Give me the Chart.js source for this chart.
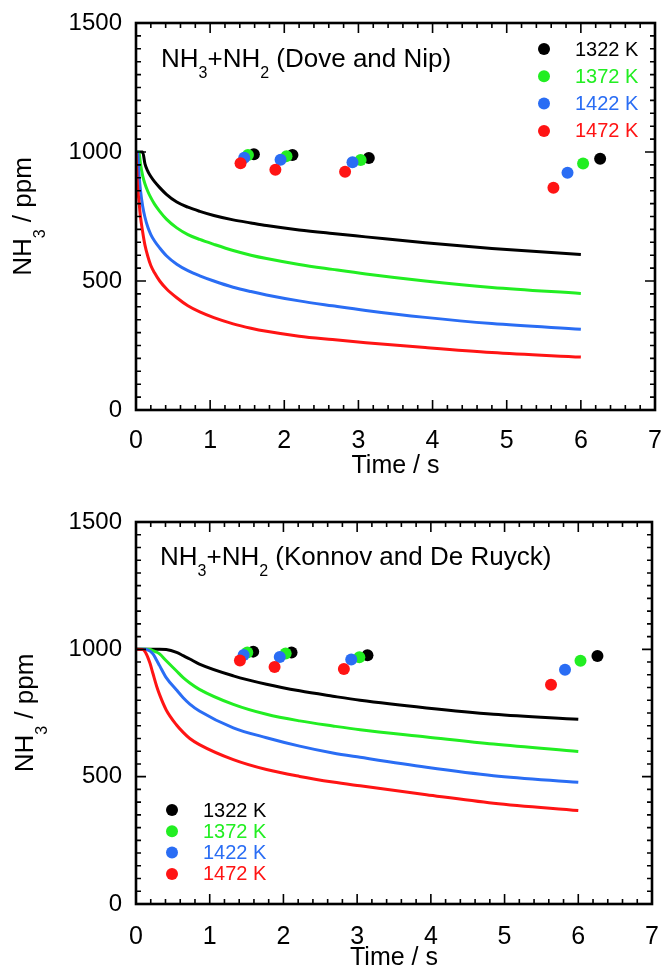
<!DOCTYPE html>
<html lang="en">
<head>
<meta charset="UTF-8">
<title>NH3 consumption - NH3+NH2 models</title>
<script src="https://cdn.jsdelivr.net/npm/chart.js"></script>
<style>
  html, body { margin: 0; padding: 0; background: #fff; }
  .panel { position: relative; width: 667px; height: 483px; }
</style>
</head>
<body>
<div class="panel"><canvas id="dove"></canvas></div>
<div class="panel"><canvas id="konnov"></canvas></div>
<script>
// ---- data ----
const temps = ['1322 K', '1372 K', '1422 K', '1472 K'];
const colors = ['#000000', '#22ee22', '#2a6df4', '#ff1414'];

const xTicks = [0, 1, 2, 3, 4, 5, 6, 7];
const yTicks = [0, 500, 1000, 1500];

// measured NH3 (same points in both panels)
const exp1322T = [1.59, 2.11, 3.14, 6.26];
const exp1322 = [991, 988, 977, 974];
const exp1372T = [1.51, 2.03, 3.03, 6.03];
const exp1372 = [988, 984, 969, 955];
const exp1422T = [1.46, 1.95, 2.92, 5.82];
const exp1422 = [978, 970, 960, 920];
const exp1472T = [1.41, 1.88, 2.82, 5.63];
const exp1472 = [956, 931, 923, 861];

// model: Dove and Nip
const doveTime = [0, 0.02, 0.04, 0.06, 0.09, 0.12, 0.16, 0.2, 0.25, 0.32, 0.41, 0.55, 0.7, 0.86, 1.05, 1.31, 1.55, 1.76, 2.2, 2.65, 3.1, 3.9, 4.8, 6.0];
const dove1322 = [1000, 1000, 1000, 1000, 1000, 955, 925, 905, 885, 862, 836, 806, 786, 770, 754, 737, 725, 715, 698, 684, 671, 648, 626, 603];
const dove1372 = [1000, 1000, 1000, 955, 908, 877, 847, 823, 798, 770, 740, 706, 680, 661, 642, 618, 600, 587, 564, 545, 527, 500, 475, 452];
const dove1422 = [1000, 1000, 915, 852, 790, 748, 708, 680, 655, 628, 598, 565, 540, 520, 500, 476, 459, 446, 423, 404, 386, 359, 335, 313];
const dove1472 = [1000, 870, 810, 750, 690, 640, 595, 560, 532, 500, 470, 435, 404, 380, 358, 334, 317, 305, 286, 273, 261, 242, 223, 205];

// model: Konnov and De Ruyck
const konTime = [0, 0.09, 0.14, 0.19, 0.23, 0.28, 0.32, 0.41, 0.55, 0.64, 0.73, 0.86, 1.32, 1.77, 2.22, 2.67, 3.04, 3.94, 4.85, 6.0];
const kon1322 = [1000, 1000, 1000, 1000, 1000, 1000, 1000, 999, 988, 975, 962, 942, 896, 863, 837, 816, 800, 770, 745, 725];
const kon1372 = [1000, 1000, 1000, 999, 995, 989, 982, 955, 915, 889, 868, 843, 784, 745, 719, 699, 684, 656, 628, 599];
const kon1422 = [1000, 1000, 999, 993, 982, 957, 936, 889, 840, 810, 785, 758, 692, 653, 620, 593, 576, 537, 504, 478];
const kon1472 = [1000, 999, 982, 945, 905, 855, 822, 762, 703, 674, 650, 626, 567, 528, 501, 479, 464, 429, 396, 367];

const FONT = '"Liberation Sans", Arial, sans-serif';
Chart.defaults.font.family = FONT;
Chart.defaults.color = '#000';

// draw runs of text, some as subscripts
function drawRuns(ctx, runs, x, y, size, drop) {
  let cx = x;
  runs.forEach(([txt, sub]) => {
    const s = sub ? Math.round(size * 0.62) : size;
    ctx.font = s + 'px ' + FONT;
    ctx.fillText(txt, cx, sub ? y + drop : y);
    cx += ctx.measureText(txt).width;
  });
  return cx - x;
}

function runsWidth(ctx, runs, size) {
  let w = 0;
  runs.forEach(([txt, sub]) => {
    ctx.font = (sub ? Math.round(size * 0.62) : size) + 'px ' + FONT;
    w += ctx.measureText(txt).width;
  });
  return w;
}

// frame, inward ticks, in-plot title, y title and legend
const decor = {
  id: 'decor',
  afterDraw(chart, args, o) {
    const { ctx, chartArea: a, scales: { x, y } } = chart;
    ctx.save();
    ctx.strokeStyle = '#000';
    ctx.lineWidth = 1.6;
    ctx.beginPath();
    for (let i = 0; i <= 35; i++) {
      const px = x.getPixelForValue(i * 0.2);
      const L = i % 5 === 0 ? 10 : 5;
      ctx.moveTo(px, a.bottom); ctx.lineTo(px, a.bottom - L);
      ctx.moveTo(px, a.top); ctx.lineTo(px, a.top + L);
    }
    for (let i = 0; i <= 30; i++) {
      const py = y.getPixelForValue(i * 50);
      const L = i % 10 === 0 ? 10 : 5;
      ctx.moveTo(a.left, py); ctx.lineTo(a.left + L, py);
      ctx.moveTo(a.right, py); ctx.lineTo(a.right - L, py);
    }
    ctx.stroke();
    ctx.lineWidth = 2.6;
    ctx.strokeRect(a.left, a.top, a.right - a.left, a.bottom - a.top);

    ctx.fillStyle = '#000';
    ctx.textBaseline = 'alphabetic';
    ctx.textAlign = 'left';
    drawRuns(ctx, o.title, o.titleX, o.titleY, 26, 11);

    ctx.save();
    ctx.translate(o.yTitleX, (a.top + a.bottom) / 2);
    ctx.rotate(-Math.PI / 2);
    const runs = [['NH', 0], ['3', 1], [' / ppm', 0]];
    const w = runsWidth(ctx, runs, 26);
    drawRuns(ctx, runs, -w / 2, 0, 26, 14);
    ctx.restore();

    ctx.textBaseline = 'middle';
    ctx.font = '20px ' + FONT;
    temps.forEach((t, i) => {
      const ly = o.legY + i * o.legStep;
      ctx.fillStyle = colors[i];
      ctx.beginPath();
      ctx.arc(o.legX, ly, 6, 0, Math.PI * 2);
      ctx.fill();
      ctx.fillText(t, o.legX + 31, ly + 1);
    });
    ctx.restore();
  }
};

function pts(tArr, vArr) {
  return tArr.map((t, i) => ({ x: t, y: vArr[i] }));
}

function noPad(s) {
  s.paddingLeft = 0; s.paddingRight = 0; s.paddingTop = 0; s.paddingBottom = 0;
}

function makeChart(id, time, curves, deco, lay) {
  const expT = [exp1322T, exp1372T, exp1422T, exp1472T];
  const expV = [exp1322, exp1372, exp1422, exp1472];
  const datasets = [];
  curves.forEach((c, i) => {
    datasets.push({
      label: temps[i] + ' model',
      data: pts(time, c),
      borderColor: colors[i],
      borderWidth: 3,
      pointRadius: 0,
      cubicInterpolationMode: 'monotone',
      fill: false,
      order: 20 - i
    });
  });
  expT.forEach((t, i) => {
    datasets.push({
      label: temps[i],
      data: pts(t, expV[i]),
      showLine: false,
      pointRadius: 6,
      pointHoverRadius: 6,
      pointBorderWidth: 0,
      pointBackgroundColor: colors[i],
      borderColor: colors[i],
      order: 10 - i
    });
  });

  return new Chart(document.getElementById(id), {
    type: 'line',
    data: { datasets },
    options: {
      responsive: true,
      maintainAspectRatio: false,
      animation: false,
      layout: { padding: { top: lay.top, right: lay.right, left: 0, bottom: 0 } },
      plugins: { legend: { display: false }, tooltip: { enabled: false }, decor: deco },
      scales: {
        x: {
          type: 'linear', min: 0, max: 7,
          grid: { display: false, drawTicks: false },
          border: { display: false },
          afterBuildTicks: s => { s.ticks = xTicks.map(v => ({ value: v })); },
          ticks: { font: { size: 25 }, padding: lay.tickPad, maxRotation: 0, autoSkip: false, callback: v => String(v) },
          title: { display: true, text: 'Time / s', font: { size: 25 }, padding: { top: 0, bottom: lay.titlePad } },
          afterFit: s => { s.height = lay.xh; noPad(s); }
        },
        y: {
          type: 'linear', min: 0, max: 1500,
          grid: { display: false, drawTicks: false },
          border: { display: false },
          afterBuildTicks: s => { s.ticks = yTicks.map(v => ({ value: v })); },
          ticks: { font: { size: 24 }, padding: 14, callback: v => String(v) },
          afterFit: s => { s.width = 136; noPad(s); }
        }
      }
    },
    plugins: [decor]
  });
}

makeChart('dove', doveTime, [dove1322, dove1372, dove1422, dove1472], {
  title: [['NH', 0], ['3', 1], ['+NH', 0], ['2', 1], [' (Dove and Nip)', 0]],
  titleX: 161, titleY: 67, yTitleX: 31,
  legX: 544, legY: 49, legStep: 27.3
}, { top: 23, right: 12, xh: 73, tickPad: 16, titlePad: 2 });

makeChart('konnov', konTime, [kon1322, kon1372, kon1422, kon1472], {
  title: [['NH', 0], ['3', 1], ['+NH', 0], ['2', 1], [' (Konnov and De Ruyck)', 0]],
  titleX: 160, titleY: 82, yTitleX: 33,
  legX: 172, legY: 327, legStep: 21.3
}, { top: 39, right: 15, xh: 62, tickPad: 18, titlePad: -7 });
</script>
</body>
</html>
